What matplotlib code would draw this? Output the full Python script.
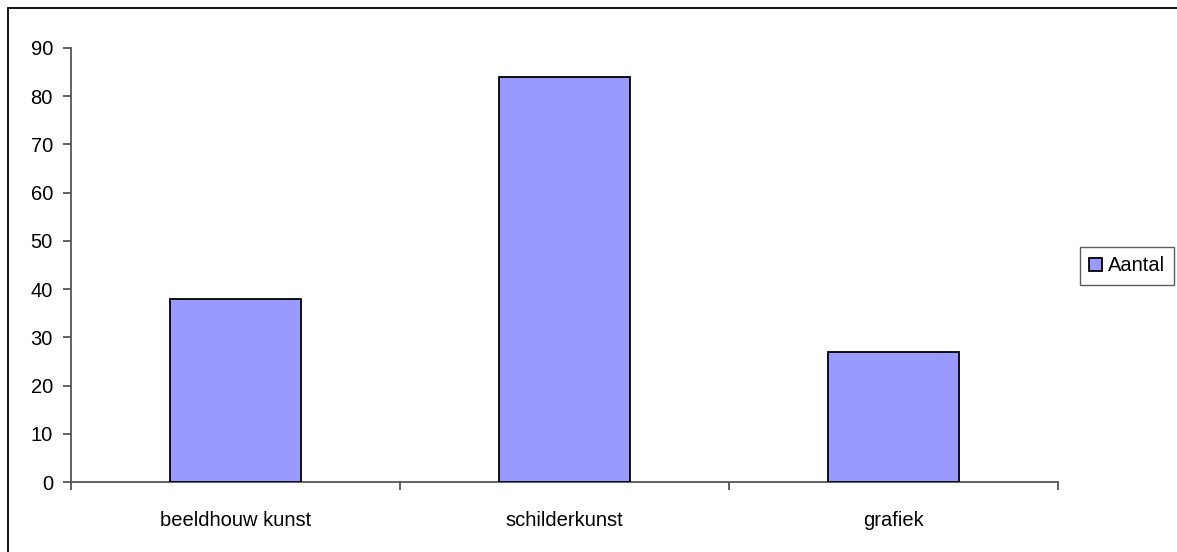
import matplotlib
matplotlib.use("Agg")
import matplotlib.pyplot as plt
from matplotlib.patches import Rectangle
from matplotlib.ticker import FixedLocator, NullFormatter

categories = ["beeldhouw kunst", "schilderkunst", "grafiek"]
values = [38, 84, 27]
series_name = "Aantal"
yticks = [0, 10, 20, 30, 40, 50, 60, 70, 80, 90]

plt.rcParams['font.family'] = ['Liberation Sans', 'DejaVu Sans']
FS = 14.5

W, H = 1177, 552
fig = plt.figure(figsize=(W / 100, H / 100), dpi=100)
fig.patch.set_facecolor('white')

# outer chart border (only top and left visible)
fig.add_artist(Rectangle((8 / W, -0.5), 2.0, 1.5 - 8 / H, transform=fig.transFigure,
                         fill=False, edgecolor='black', linewidth=1.3, clip_on=False))

ax = fig.add_axes([71 / W, 1 - 482 / H, (1058 - 71) / W, (482 - 48) / H])
x = list(range(len(categories)))
bars = ax.bar(x, values, width=0.4, color='#9999ff', edgecolor='black', linewidth=1.3,
              label=series_name, zorder=3)

ax.set_xlim(-0.5, len(categories) - 0.5)
ax.set_ylim(0, 90)
ax.set_yticks(yticks)
ax.set_yticklabels([str(v) for v in yticks], fontsize=FS)

ax.xaxis.set_major_locator(FixedLocator([i - 0.5 for i in range(len(categories) + 1)]))
ax.xaxis.set_major_formatter(NullFormatter())
ax.xaxis.set_minor_locator(FixedLocator(x))
ax.set_xticklabels(categories, minor=True, fontsize=FS)
ax.tick_params(axis='x', which='minor', length=0, pad=21)
ax.tick_params(axis='x', which='major', direction='out', length=6, color='#555555', width=1.3)
ax.tick_params(axis='y', direction='out', length=6, color='#555555', width=1.3, pad=7)

for s in ['top', 'right']:
    ax.spines[s].set_visible(False)
ax.spines['left'].set_color('#555555')
ax.spines['bottom'].set_color('#555555')
ax.spines['left'].set_linewidth(1.3)
ax.spines['bottom'].set_linewidth(1.3)

leg = fig.legend(handles=[bars], labels=[series_name], loc='center left',
                 bbox_to_anchor=(1080 / W, 1 - 266 / H), fontsize=FS, frameon=True,
                 fancybox=False, edgecolor='#333333', handlelength=0.65, handleheight=0.65,
                 handletextpad=0.3, borderpad=0.45, borderaxespad=0)
leg.get_frame().set_linewidth(1.0)

fig.savefig("out.png", dpi=100)
